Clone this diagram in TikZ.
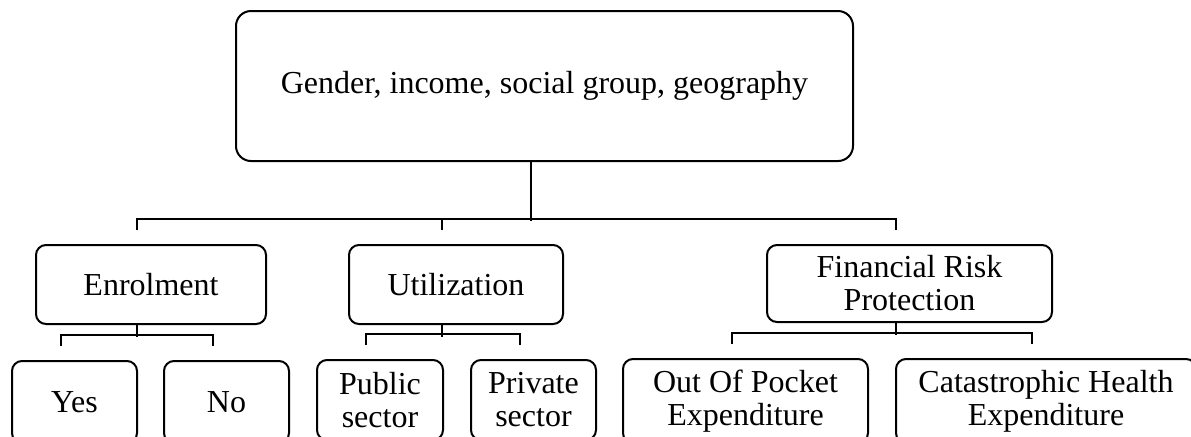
\documentclass[tikz,border=0pt]{standalone}
\usepackage{fontspec}
\setmainfont{Liberation Serif}
\begin{document}
\begin{tikzpicture}[x=0.5pt,y=-0.5pt,
  box/.style={draw, line width=1pt, rounded corners=5pt, inner sep=0pt,
    align=center, font=\fontsize{16}{16.5}\selectfont},
  bigbox/.style={box, rounded corners=7.5pt},
  conn/.style={line width=1pt}]
\useasboundingbox (0,0) rectangle (1191,436);
\clip (0,0) rectangle (1191,436);
\node[bigbox, minimum width=308.5pt, minimum height=75pt] (top) at (544.5,86) {Gender, income, social group, geography};
\node[box, minimum width=115pt, minimum height=39.5pt] (enr) at (151,284.5) {Enrolment};
\node[box, minimum width=107pt, minimum height=39.5pt] (util) at (456,284.5) {Utilization};
\node[box, minimum width=142.5pt, minimum height=38.5pt] (frp) at (909.5,283.5) {Financial Risk\\Protection};
\node[box, minimum width=62.5pt, minimum height=41pt] (yes) at (74.5,402) {Yes};
\node[box, minimum width=62.5pt, minimum height=41pt] (no) at (226.5,402) {No};
\node[box, minimum width=63pt, minimum height=40pt] (pub) at (380,400) {Public\\sector};
\node[box, minimum width=62.5pt, minimum height=40pt] (priv) at (533.5,400) {Private\\sector};
\node[box, minimum width=122.5pt, minimum height=42pt] (oop) at (745.5,401) {Out Of Pocket\\Expenditure};
\node[box, minimum width=150pt, minimum height=42pt] (cat) at (1046,401) {Catastrophic Health\\Expenditure};
% top level
\draw[conn] ([xshift=-7pt]top.south) -- ++(0,59);
\draw[conn] ([shift={(-7pt,7pt)}]enr.north) -- ++(0,-11) -| ([shift={(-7pt,7pt)}]frp.north);
\draw[conn] ([shift={(-7pt,7pt)}]util.north) -- ++(0,-11);
% enrolment
\draw[conn] ([xshift=-7pt]enr.south) -- ++(0,12);
\draw[conn] ([shift={(-7pt,7pt)}]yes.north) -- ++(0,-11) -| ([shift={(-7pt,7pt)}]no.north);
% utilization
\draw[conn] ([xshift=-7pt]util.south) -- ++(0,12);
\draw[conn] ([shift={(-7pt,7pt)}]pub.north) -- ++(0,-11) -| ([shift={(-7pt,7pt)}]priv.north);
% financial
\draw[conn] ([xshift=-7pt]frp.south) -- ++(0,12);
\draw[conn] ([shift={(-7pt,7pt)}]oop.north) -- ++(0,-11) -| ([shift={(-7pt,7pt)}]cat.north);
\end{tikzpicture}
\end{document}
